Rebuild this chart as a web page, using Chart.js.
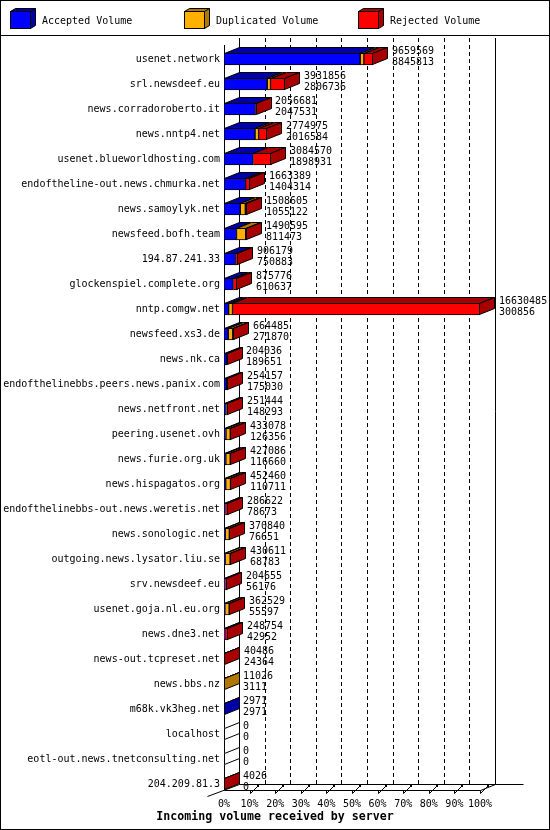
<!DOCTYPE html>
<html>
<head>
<meta charset="utf-8">
<title>Incoming volume received by server</title>
<script src="https://cdn.jsdelivr.net/npm/chart.js@4.4.0/dist/chart.umd.min.js"></script>
<style>
    html, body { margin: 0; padding: 0; background: #fff; }
    canvas { display: block; }
</style>
</head>
<body>
<canvas id="volumeChart" width="550" height="830"></canvas>
<script>
// Servers, top to bottom
const servers = [
    'usenet.network', 'srl.newsdeef.eu', 'news.corradoroberto.it', 'news.nntp4.net',
    'usenet.blueworldhosting.com', 'endoftheline-out.news.chmurka.net', 'news.samoylyk.net',
    'newsfeed.bofh.team', '194.87.241.33', 'glockenspiel.complete.org', 'nntp.comgw.net',
    'newsfeed.xs3.de', 'news.nk.ca', 'endofthelinebbs.peers.news.panix.com', 'news.netfront.net',
    'peering.usenet.ovh', 'news.furie.org.uk', 'news.hispagatos.org',
    'endofthelinebbs-out.news.weretis.net', 'news.sonologic.net', 'outgoing.news.lysator.liu.se',
    'srv.newsdeef.eu', 'usenet.goja.nl.eu.org', 'news.dne3.net', 'news-out.tcpreset.net',
    'news.bbs.nz', 'm68k.vk3heg.net', 'localhost', 'eotl-out.news.tnetconsulting.net', '204.209.81.3'
];

// Totals and accepted volumes as printed next to each bar
const totalVolume = [
    9659569, 3931856, 2056681, 2774975, 3084570, 1663389, 1508605, 1490595, 906179, 875776,
    16630485, 664485, 204036, 254157, 251444, 433078, 427086, 452460, 286622, 370840,
    430611, 204655, 362529, 248754, 40486, 11026, 2971, 0, 0, 4026
];
const acceptedVolume = [
    8845813, 2806736, 2047531, 2016584, 1898931, 1404314, 1055122, 811473, 750883, 610637,
    300856, 271870, 189651, 175030, 148293, 126356, 116660, 110711, 78673, 76651,
    68783, 56176, 55597, 42952, 24364, 3111, 2971, 0, 0, 0
];
// Estimated from the bar segments
const duplicatedVolume = [
    240000, 215000, 0, 230000, 0, 0, 330000, 600000, 0, 0,
    250000, 300000, 0, 0, 0, 280000, 290000, 310000, 0, 270000,
    330000, 0, 280000, 0, 0, 7915, 0, 0, 0, 0
];
const rejectedVolume = [
    573756, 910120, 9150, 528391, 1185639, 259075, 123483, 79122, 155296, 265139,
    16079629, 92615, 14385, 79127, 103151, 26722, 20426, 31749, 207949, 24189,
    31828, 148479, 26932, 205802, 16122, 0, 0, 0, 0, 4026
];

const percentTicks = ['0%', '10%', '20%', '30%', '40%', '50%', '60%', '70%', '80%', '90%', '100%'];
const seriesNames = ['Accepted Volume', 'Duplicated Volume', 'Rejected Volume'];

const frontColors = ['#0000ff', '#ffb000', '#ff0000'];
const shadeColors = ['#0000a8', '#b07800', '#a80000'];
const MONO = '"DejaVu Sans Mono", "Liberation Mono", monospace';
const DX = 15, DY = 6;

const scaleMax = Math.max(...totalVolume);

// Draws the 3D box look, the frame, legend and caption
const depthPlugin = {
    id: 'depth',
    beforeDatasetsDraw(chart) {
        const ctx = chart.ctx;
        const xs = chart.scales.x;
        const area = chart.chartArea;
        const last = chart.getDatasetMeta(0).data[servers.length - 1];
        const floorY = Math.round(last.y + last.height / 2) + 0.5;
        const backY = floorY - DY;
        const topBack = area.top - 8.5;
        const x0 = Math.round(xs.getPixelForValue(0)) + 0.5;
        const x100 = Math.round(xs.getPixelForValue(scaleMax)) + 0.5;

        ctx.save();
        ctx.strokeStyle = '#000';
        ctx.lineWidth = 1;

        // dashed back gridlines
        ctx.setLineDash([4, 3]);
        for (let i = 1; i < 10; i++) {
            const x = Math.round(xs.getPixelForValue(scaleMax * i / 10)) + 0.5 + DX;
            ctx.beginPath();
            ctx.moveTo(x, topBack);
            ctx.lineTo(x, backY);
            ctx.stroke();
        }
        ctx.setLineDash([]);

        ctx.beginPath();
        // back wall edges
        ctx.moveTo(x0 + DX, topBack); ctx.lineTo(x0 + DX, backY);
        ctx.moveTo(x100 + DX, topBack); ctx.lineTo(x100 + DX, backY);
        // floor
        ctx.moveTo(x0 + DX, backY); ctx.lineTo(x100 + DX + 28, backY);
        ctx.moveTo(x0, floorY); ctx.lineTo(x100, floorY);
        ctx.moveTo(x0 - 17, floorY + 6); ctx.lineTo(x0 + DX, backY);
        ctx.moveTo(x100, floorY); ctx.lineTo(x100 + DX, backY);
        // front left edge
        ctx.moveTo(x0, area.top - 1.5); ctx.lineTo(x0, floorY);
        ctx.stroke();

        // ticks on the floor
        for (let i = 1; i <= 10; i++) {
            const x = Math.round(xs.getPixelForValue(scaleMax * i / 10)) + 0.5;
            ctx.beginPath();
            ctx.moveTo(x, floorY); ctx.lineTo(x, floorY + 3);
            ctx.moveTo(x, floorY + 3); ctx.lineTo(x + 7, floorY - 4);
            ctx.stroke();
            ctx.fillStyle = '#000';
            ctx.fillRect(x + 6.5, floorY - 5.5, 2, 2);
        }
        ctx.restore();
    },
    afterDatasetsDraw(chart) {
        const ctx = chart.ctx;
        const xs = chart.scales.x;
        const metas = [0, 1, 2].map(d => chart.getDatasetMeta(d));
        const series = [acceptedVolume, duplicatedVolume, rejectedVolume];

        ctx.save();
        ctx.lineWidth = 1;
        ctx.strokeStyle = '#000';

        servers.forEach((name, i) => {
            const ref = metas[0].data[i];
            const top = Math.round(ref.y - ref.height / 2) + 0.5;
            const bottom = Math.round(ref.y + ref.height / 2) - 0.5;
            let endX = Math.round(xs.getPixelForValue(0)) + 0.5;
            let lastSeries = -1;

            // top faces, one per segment
            series.forEach((values, d) => {
                if (!values[i]) return;
                const el = metas[d].data[i];
                const a = Math.round(el.base) + 0.5;
                const b = Math.max(a, Math.round(el.x) - 0.5);
                ctx.beginPath();
                ctx.moveTo(a, top);
                ctx.lineTo(a + DX, top - DY);
                ctx.lineTo(b + DX, top - DY);
                ctx.lineTo(b, top);
                ctx.closePath();
                ctx.fillStyle = shadeColors[d];
                ctx.fill();
                ctx.stroke();
                endX = b;
                lastSeries = d;
            });

            // side face of the last segment
            ctx.beginPath();
            ctx.moveTo(endX, top);
            ctx.lineTo(endX + DX, top - DY);
            ctx.lineTo(endX + DX, bottom - DY);
            ctx.lineTo(endX, bottom);
            ctx.closePath();
            ctx.fillStyle = lastSeries < 0 ? '#fff' : shadeColors[lastSeries];
            ctx.fill();
            ctx.stroke();

            // total over accepted
            const tx = Math.round(xs.getPixelForValue(totalVolume[i])) + DX + 4;
            ctx.fillStyle = '#000';
            ctx.font = '10px ' + MONO;
            ctx.textAlign = 'left';
            ctx.textBaseline = 'alphabetic';
            ctx.fillText(String(totalVolume[i]), tx, ref.y - 5);
            ctx.fillText(String(acceptedVolume[i]), tx, ref.y + 6);
        });
        ctx.restore();
    },
    afterDraw(chart) {
        const ctx = chart.ctx;
        ctx.save();
        ctx.lineWidth = 1;
        ctx.strokeStyle = '#000';

        // legend with small cubes
        const legendX = [10, 184, 358];
        seriesNames.forEach((label, d) => {
            const x = legendX[d] + 0.5, y = 11.5, w = 20, h = 17;
            ctx.fillStyle = frontColors[d];
            ctx.fillRect(x, y, w, h);
            ctx.strokeRect(x, y, w, h);
            ctx.beginPath();
            ctx.moveTo(x, y); ctx.lineTo(x + 5, y - 3); ctx.lineTo(x + w + 5, y - 3);
            ctx.lineTo(x + w + 5, y + h - 3); ctx.lineTo(x + w, y + h); ctx.lineTo(x + w, y);
            ctx.closePath();
            ctx.fillStyle = shadeColors[d];
            ctx.fill();
            ctx.stroke();
            ctx.beginPath();
            ctx.moveTo(x + w, y); ctx.lineTo(x + w + 5, y - 3);
            ctx.stroke();
            ctx.fillStyle = '#000';
            ctx.font = '10px ' + MONO;
            ctx.textBaseline = 'alphabetic';
            ctx.fillText(label, legendX[d] + 32, 24);
        });

        // separator and frame
        ctx.beginPath();
        ctx.moveTo(0, 35.5); ctx.lineTo(550, 35.5);
        ctx.stroke();
        ctx.strokeRect(0.5, 0.5, 549, 829);

        // caption
        ctx.fillStyle = '#000';
        ctx.font = 'bold 11.6px ' + MONO;
        ctx.textAlign = 'center';
        ctx.fillText('Incoming volume received by server', 275, 820);
        ctx.restore();
    }
};

const datasets = [acceptedVolume, duplicatedVolume, rejectedVolume].map((values, d) => ({
    label: seriesNames[d],
    data: values,
    backgroundColor: frontColors[d],
    borderColor: '#000',
    borderWidth: c => (c.raw ? 1 : 0),
    borderSkipped: false,
    barThickness: 12
}));

new Chart(document.getElementById('volumeChart'), {
    type: 'bar',
    data: { labels: servers, datasets: datasets },
    options: {
        indexAxis: 'y',
        responsive: false,
        animation: false,
        devicePixelRatio: 1,
        layout: { padding: { top: 46.5, right: 70, left: 0, bottom: 0 } },
        plugins: {
            legend: { display: false },
            tooltip: { enabled: false }
        },
        scales: {
            x: {
                stacked: true,
                min: 0,
                max: scaleMax,
                grid: { display: false, drawTicks: false },
                border: { display: false },
                afterBuildTicks: s => {
                    s.ticks = percentTicks.map((t, i) => ({ value: scaleMax * i / 10 }));
                },
                afterFit: s => { s.height = 33.5; },
                ticks: {
                    callback: (v, i) => percentTicks[i],
                    font: { family: MONO, size: 10 },
                    color: '#000',
                    padding: 2,
                    maxRotation: 0,
                    autoSkip: false
                }
            },
            y: {
                stacked: true,
                grid: { display: false, drawTicks: false },
                border: { display: false },
                afterFit: s => { s.width = 224; },
                ticks: {
                    font: { family: MONO, size: 10 },
                    color: '#000',
                    padding: 4,
                    autoSkip: false
                }
            }
        }
    },
    plugins: [depthPlugin]
});
</script>
</body>
</html>
